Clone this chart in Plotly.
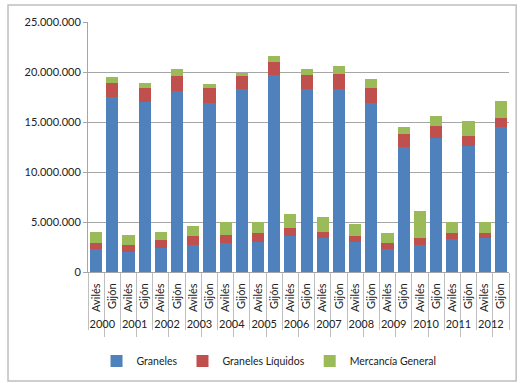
import plotly.graph_objects as go

years = ["2000", "2001", "2002", "2003", "2004", "2005", "2006",
         "2007", "2008", "2009", "2010", "2011", "2012"]
ports = ["Avilés", "Gijón"]

# tonnes per port, Avilés / Gijón alternating by year
graneles = [2270000, 17470000, 2030000, 17030000, 2400000, 18100000,
            2700000, 16870000, 2930000, 18270000, 3030000, 19670000,
            3600000, 18330000, 3370000, 18330000, 3030000, 16870000,
            2270000, 12470000, 2670000, 13400000, 3270000, 12630000,
            3370000, 14500000]
graneles_liquidos = [660000, 1400000, 640000, 1340000, 800000, 1470000,
                     900000, 1500000, 800000, 1330000, 840000, 1360000,
                     770000, 1370000, 660000, 1470000, 570000, 1500000,
                     660000, 1330000, 700000, 1200000, 600000, 970000,
                     560000, 930000]
mercancia_general = [1100000, 600000, 1030000, 500000, 830000, 700000,
                     1000000, 400000, 1300000, 270000, 1100000, 570000,
                     1460000, 570000, 1440000, 800000, 1200000, 900000,
                     1000000, 700000, 2700000, 1030000, 1160000, 1470000,
                     1100000, 1700000]

x_year = [y for y in years for p in ports]
x_port = [p for y in years for p in ports]

fig = go.Figure()
fig.add_trace(go.Bar(x=[x_year, x_port], y=graneles, name="Graneles",
                     marker=dict(color="#4F81BD", line=dict(width=0))))
fig.add_trace(go.Bar(x=[x_year, x_port], y=graneles_liquidos, name="Graneles Líquidos",
                     marker=dict(color="#C0504D", line=dict(width=0))))
fig.add_trace(go.Bar(x=[x_year, x_port], y=mercancia_general, name="Mercancía General",
                     marker=dict(color="#9BBB59", line=dict(width=0))))

fig.update_layout(
    width=520, height=383,
    barmode="stack", bargap=0.25,
    separators=",.",
    font=dict(family="Lato, Liberation Sans", size=11, color="#222222"),
    paper_bgcolor="white", plot_bgcolor="white",
    margin=dict(l=88, r=11, t=22, b=111),
    legend=dict(orientation="h", x=0.43, xanchor="center",
                yref="container", y=0.095, yanchor="top",
                font=dict(size=10.5), itemwidth=30, traceorder="normal"),
    shapes=[dict(type="rect", xref="paper", yref="paper",
                 x0=-0.19, x1=1.017, y0=-0.436, y1=1.068,
                 line=dict(color="#bfbfbf", width=1.5))],
)
fig.update_yaxes(range=[0, 25000000], dtick=5000000, tickformat=",d",
                 showgrid=True, gridcolor="#a6a6a6", gridwidth=1,
                 showline=True, linecolor="#a6a6a6", zeroline=False,
                 ticks="outside", ticklen=4, tickcolor="#a6a6a6",
                 tickfont=dict(size=11), automargin=False)
fig.update_xaxes(type="multicategory", tickangle=-90, showline=True,
                 linecolor="#a6a6a6", ticks="outside", ticklen=64,
                 tickcolor="#bfbfbf", showdividers=True, dividercolor="#bfbfbf",
                 tickfont=dict(size=11), automargin=False, ticklabelstandoff=6)

# drop the default page margin so the figure sits at 0,0
fig.write_html("out.html", config=dict(displayModeBar=False), post_script=(
    "document.body.style.margin='0';"
    "document.body.style.overflow='hidden';"
    "document.documentElement.style.overflow='hidden';"))
